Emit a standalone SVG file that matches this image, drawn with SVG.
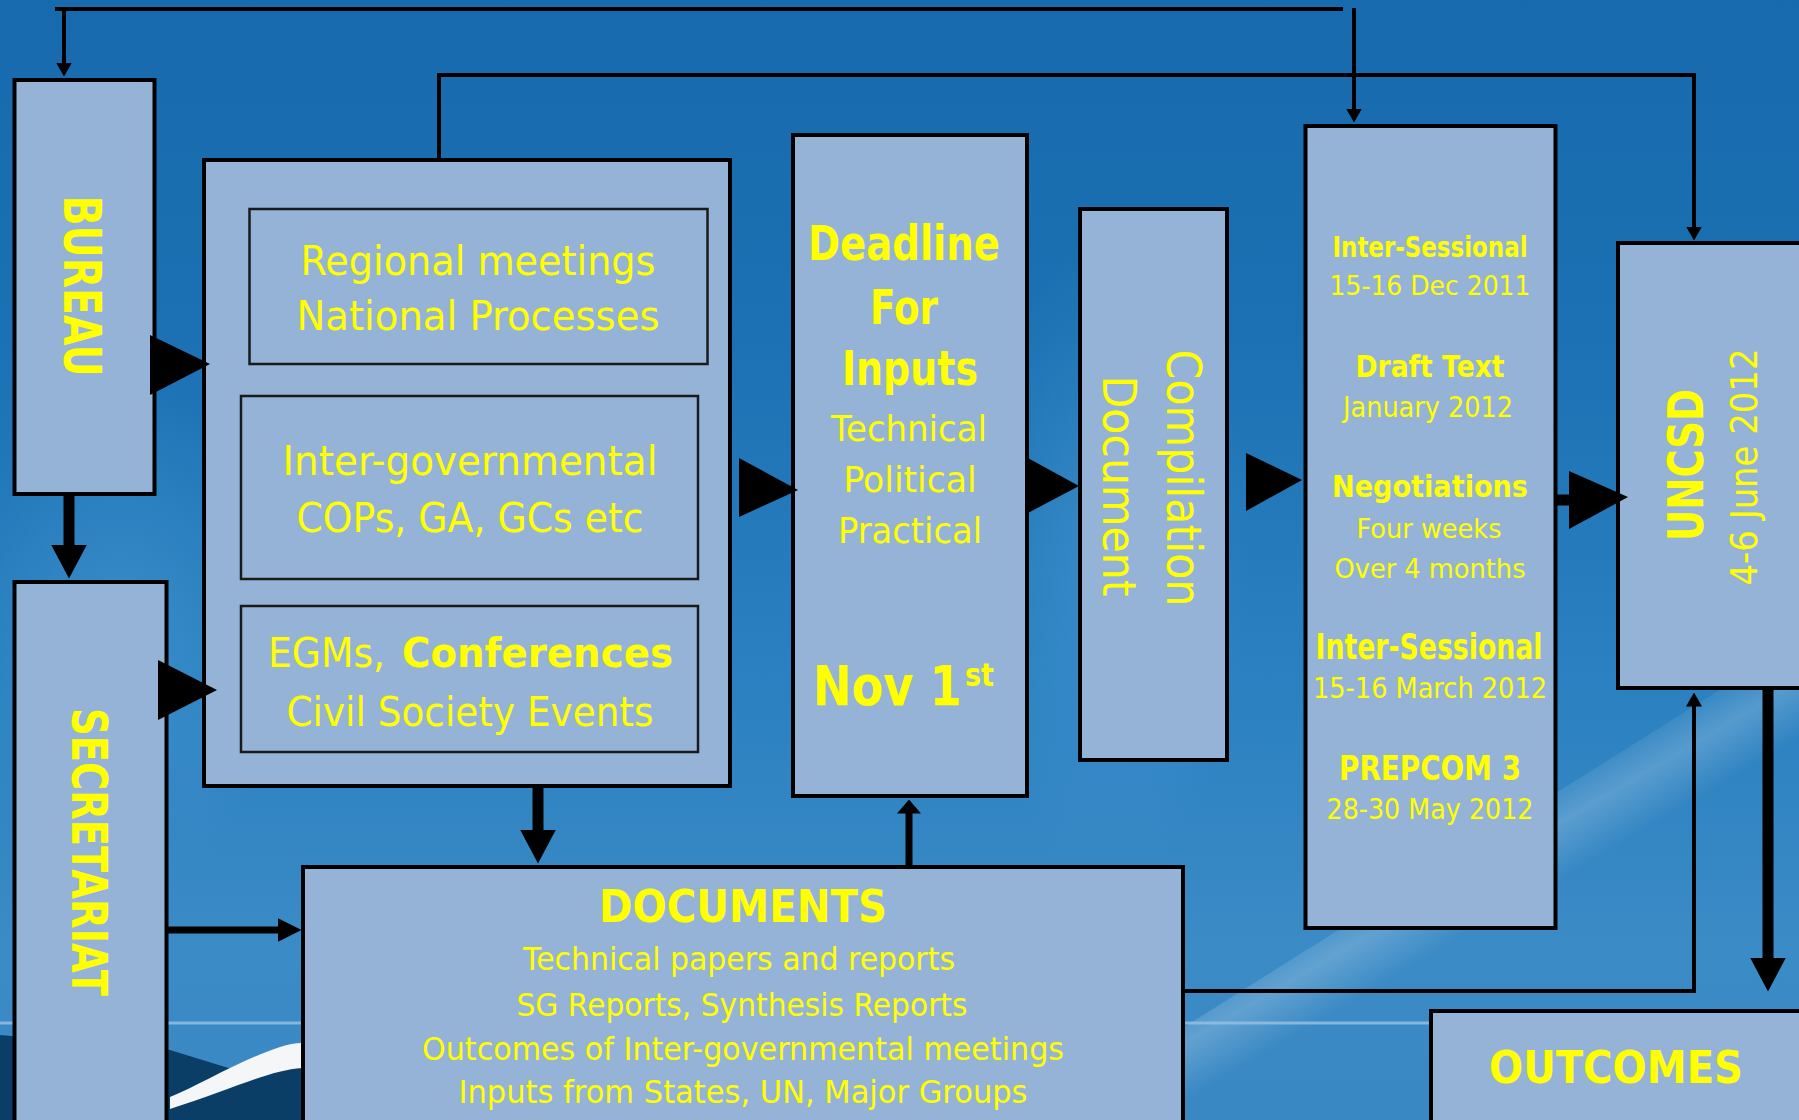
<svg xmlns="http://www.w3.org/2000/svg" width="1799" height="1120" viewBox="0 0 1799 1120">
  <defs>
    <linearGradient id="bg" x1="0" y1="0" x2="0" y2="1">
      <stop offset="0" stop-color="#176aad"/>
      <stop offset="0.3" stop-color="#1b71b3"/>
      <stop offset="0.6" stop-color="#2a80c0"/>
      <stop offset="0.85" stop-color="#3b8bc6"/>
      <stop offset="1" stop-color="#3a88c3"/>
    </linearGradient>
    <linearGradient id="streak" gradientUnits="userSpaceOnUse" x1="1450" y1="830" x2="1500" y2="915">
      <stop offset="0" stop-color="#ffffff" stop-opacity="0"/>
      <stop offset="0.5" stop-color="#ffffff" stop-opacity="0.2"/>
      <stop offset="1" stop-color="#ffffff" stop-opacity="0"/>
    </linearGradient>
    <radialGradient id="glow" cx="0.5" cy="0.5" r="0.5">
      <stop offset="0" stop-color="#4a9ad2" stop-opacity="0.5"/>
      <stop offset="1" stop-color="#4a9ad2" stop-opacity="0"/>
    </radialGradient>
    <marker id="ah-thin" viewBox="0 0 14 16" refX="0.5" refY="8" markerWidth="14" markerHeight="16" markerUnits="userSpaceOnUse" orient="auto">
      <path d="M0,0 L14,8 L0,16 Z" fill="#000"/>
    </marker>
    <marker id="ah-thick" viewBox="0 0 34 36" refX="0.5" refY="18" markerWidth="34" markerHeight="36" markerUnits="userSpaceOnUse" orient="auto">
      <path d="M0,0 L34,18 L0,36 Z" fill="#000"/>
    </marker>
    <marker id="ah-med" viewBox="0 0 24 24" refX="0.5" refY="12" markerWidth="24" markerHeight="24" markerUnits="userSpaceOnUse" orient="auto">
      <path d="M0,0 L24,12 L0,24 Z" fill="#000"/>
    </marker>
    <marker id="ah-small" viewBox="0 0 14 24" refX="0.5" refY="12" markerWidth="14" markerHeight="24" markerUnits="userSpaceOnUse" orient="auto">
      <path d="M0,0 L14,12 L0,24 Z" fill="#000"/>
    </marker>
  </defs>
  <style>
    .box { fill: #95b3d7; stroke: #000; stroke-width: 4; }
    .inner { fill: #95b3d7; stroke: #1a1a1a; stroke-width: 2.5; }
    .t { font-family: "DejaVu Sans", "Liberation Sans", sans-serif; fill: #ffff00; text-anchor: middle; }
    .b { font-weight: bold; }
    .thin { fill: none; stroke: #000; stroke-width: 4; }
    .thick { fill: none; stroke: #000; stroke-width: 11; }
    .med { fill: none; stroke: #000; stroke-width: 7; }
    .tri { fill: #000; }
  </style>

  <!-- background -->
  <g id="background">
    <rect x="0" y="0" width="1799" height="1120" fill="url(#bg)"/>
    <ellipse cx="1110" cy="560" rx="140" ry="320" fill="url(#glow)"/>
    <ellipse cx="120" cy="640" rx="160" ry="260" fill="url(#glow)"/>
    <polygon points="1100,1080 1799,640 1799,760 1180,1120" fill="url(#streak)"/>
    <line x1="0" y1="1023" x2="1799" y2="1023" stroke="#93c0e3" stroke-width="3" opacity="0.85"/>
    <path d="M0,1035 L170,1050 L235,1070 L302,1058 L302,1120 L0,1120 Z" fill="#0b3e66"/>
    <path d="M170,1097 C200,1085 240,1060 280,1047 Q292,1043 302,1043 L302,1068 C270,1070 230,1090 170,1109 Z" fill="#f4f6f8"/>
  </g>

  <!-- nodes -->
  <g id="bureau">
    <rect class="box" x="14.5" y="80" width="140" height="414"/>
    <text class="t b" font-size="51" textLength="181" lengthAdjust="spacingAndGlyphs" transform="translate(64,286) rotate(90)">BUREAU</text>
  </g>
  <g id="secretariat">
    <rect class="box" x="14.5" y="582" width="152" height="560"/>
    <text class="t b" font-size="49" textLength="288" lengthAdjust="spacingAndGlyphs" transform="translate(72,852) rotate(90)">SECRETARIAT</text>
  </g>
  <g id="processes">
    <rect class="box" x="204" y="160" width="526" height="626"/>
    <g id="regional">
      <rect class="inner" x="249.5" y="209" width="458" height="155"/>
      <text class="t" font-size="41" x="478" y="275" textLength="355" lengthAdjust="spacingAndGlyphs">Regional meetings</text>
      <text class="t" font-size="41" x="478" y="330" textLength="363" lengthAdjust="spacingAndGlyphs">National Processes</text>
    </g>
    <g id="intergovernmental">
      <rect class="inner" x="241" y="396" width="457" height="183"/>
      <text class="t" font-size="41" x="470" y="475" textLength="375" lengthAdjust="spacingAndGlyphs">Inter-governmental</text>
      <text class="t" font-size="41" x="470" y="532" textLength="347" lengthAdjust="spacingAndGlyphs">COPs, GA, GCs etc</text>
    </g>
    <g id="egms">
      <rect class="inner" x="241" y="606" width="457" height="146"/>
      <text class="t" font-size="41" y="667" style="text-anchor:start"><tspan x="268" textLength="117" lengthAdjust="spacingAndGlyphs">EGMs,</tspan><tspan x="402" class="b" textLength="271" lengthAdjust="spacingAndGlyphs">Conferences</tspan></text>
      <text class="t" font-size="41" x="470" y="726" textLength="367" lengthAdjust="spacingAndGlyphs">Civil Society Events</text>
    </g>
  </g>
  <g id="deadline">
    <rect class="box" x="793" y="135" width="234" height="661"/>
    <text class="t b" font-size="48" x="904" y="260" textLength="192" lengthAdjust="spacingAndGlyphs">Deadline</text>
    <text class="t b" font-size="48" x="904" y="324" textLength="68" lengthAdjust="spacingAndGlyphs">For</text>
    <text class="t b" font-size="48" x="910" y="385" textLength="136" lengthAdjust="spacingAndGlyphs">Inputs</text>
    <text class="t" font-size="36" x="909" y="441" textLength="156" lengthAdjust="spacingAndGlyphs">Technical</text>
    <text class="t" font-size="36" x="910" y="492" textLength="133" lengthAdjust="spacingAndGlyphs">Political</text>
    <text class="t" font-size="36" x="910" y="543" textLength="144" lengthAdjust="spacingAndGlyphs">Practical</text>
    <text class="t b" font-size="55" style="text-anchor:start"><tspan x="813" y="705" textLength="149" lengthAdjust="spacingAndGlyphs">Nov 1</tspan><tspan x="965" y="686" font-size="32" textLength="29" lengthAdjust="spacingAndGlyphs">st</tspan></text>
  </g>
  <g id="compilation">
    <rect class="box" x="1080" y="209" width="147" height="551"/>
    <text class="t" font-size="48" textLength="257" lengthAdjust="spacingAndGlyphs" transform="translate(1167,478) rotate(90)">Compilation</text>
    <text class="t" font-size="47" textLength="221" lengthAdjust="spacingAndGlyphs" transform="translate(1103,486) rotate(90)">Document</text>
  </g>
  <g id="negotiations">
    <rect class="box" x="1305.5" y="126" width="250" height="802"/>
    <text class="t b" font-size="29" x="1430" y="257" textLength="195" lengthAdjust="spacingAndGlyphs">Inter-Sessional</text>
    <text class="t" font-size="27" x="1430" y="295" textLength="201" lengthAdjust="spacingAndGlyphs">15-16 Dec 2011</text>
    <text class="t b" font-size="31" x="1430" y="377" textLength="149" lengthAdjust="spacingAndGlyphs">Draft Text</text>
    <text class="t" font-size="29" x="1428" y="417" textLength="170" lengthAdjust="spacingAndGlyphs">January 2012</text>
    <text class="t b" font-size="30" x="1430" y="497" textLength="196" lengthAdjust="spacingAndGlyphs">Negotiations</text>
    <text class="t" font-size="27" x="1429" y="538" textLength="145" lengthAdjust="spacingAndGlyphs">Four weeks</text>
    <text class="t" font-size="27" x="1430" y="578" textLength="191" lengthAdjust="spacingAndGlyphs">Over 4 months</text>
    <text class="t b" font-size="35" x="1429" y="659" textLength="227" lengthAdjust="spacingAndGlyphs">Inter-Sessional</text>
    <text class="t" font-size="28" x="1430" y="698" textLength="234" lengthAdjust="spacingAndGlyphs">15-16 March 2012</text>
    <text class="t b" font-size="34" x="1430" y="780" textLength="182" lengthAdjust="spacingAndGlyphs">PREPCOM 3</text>
    <text class="t" font-size="28" x="1430" y="819" textLength="207" lengthAdjust="spacingAndGlyphs">28-30 May 2012</text>
  </g>
  <g id="uncsd">
    <rect class="box" x="1618" y="243" width="200" height="445"/>
    <text class="t b" font-size="49" textLength="152" lengthAdjust="spacingAndGlyphs" transform="translate(1703,465) rotate(-90)">UNCSD</text>
    <text class="t" font-size="38" textLength="237" lengthAdjust="spacingAndGlyphs" transform="translate(1757,467) rotate(-90)">4-6 June 2012</text>
  </g>
  <g id="outcomes">
    <rect class="box" x="1431" y="1011" width="400" height="200"/>
    <text class="t b" font-size="45" x="1616" y="1083" textLength="254" lengthAdjust="spacingAndGlyphs">OUTCOMES</text>
  </g>
  <g id="documents">
    <rect class="box" x="303" y="867" width="880" height="300"/>
    <text class="t b" font-size="45" x="743" y="922" textLength="288" lengthAdjust="spacingAndGlyphs">DOCUMENTS</text>
    <text class="t" font-size="32" x="739" y="970" textLength="432" lengthAdjust="spacingAndGlyphs">Technical papers and reports</text>
    <text class="t" font-size="32" x="742" y="1016" textLength="451" lengthAdjust="spacingAndGlyphs">SG Reports, Synthesis Reports</text>
    <text class="t" font-size="32" x="743" y="1060" textLength="642" lengthAdjust="spacingAndGlyphs">Outcomes of Inter-governmental meetings</text>
    <text class="t" font-size="32" x="743" y="1103" textLength="569" lengthAdjust="spacingAndGlyphs">Inputs from States, UN, Major Groups</text>
  </g>

  <!-- connectors -->
  <g id="connectors">
    <line class="thin" x1="55" y1="9" x2="1343" y2="9"/>
    <path class="thin" d="M64,9 V63" marker-end="url(#ah-thin)"/>
    <path class="thin" d="M1354,8 V109" marker-end="url(#ah-thin)"/>
    <path class="thin" d="M439,158 V75 H1694 V227" marker-end="url(#ah-thin)"/>
    <path class="thin" d="M1185,991 H1694 V706" marker-end="url(#ah-thin)"/>
    <path class="thick" d="M69,496 V545" marker-end="url(#ah-thick)"/>
    <path class="thick" d="M538,788 V830" marker-end="url(#ah-thick)"/>
    <path class="thick" d="M1768,690 V958" marker-end="url(#ah-thick)"/>
    <path class="med" d="M168,930 H278" marker-end="url(#ah-med)"/>
    <path class="med" d="M909,866 V813" marker-end="url(#ah-small)"/>
    <polygon class="tri" points="150,335 210,364 150,395"/>
    <polygon class="tri" points="158,660 217,690 158,720"/>
    <polygon class="tri" points="739,458 798,490 739,517"/>
    <polygon class="tri" points="1026,457 1079,486 1026,514"/>
    <polygon class="tri" points="1246,453 1302,480 1246,511"/>
    <path class="med" d="M1556,500 H1572" style="stroke-width:11"/>
    <polygon class="tri" points="1569,471 1628,497 1569,529"/>
  </g>
</svg>
